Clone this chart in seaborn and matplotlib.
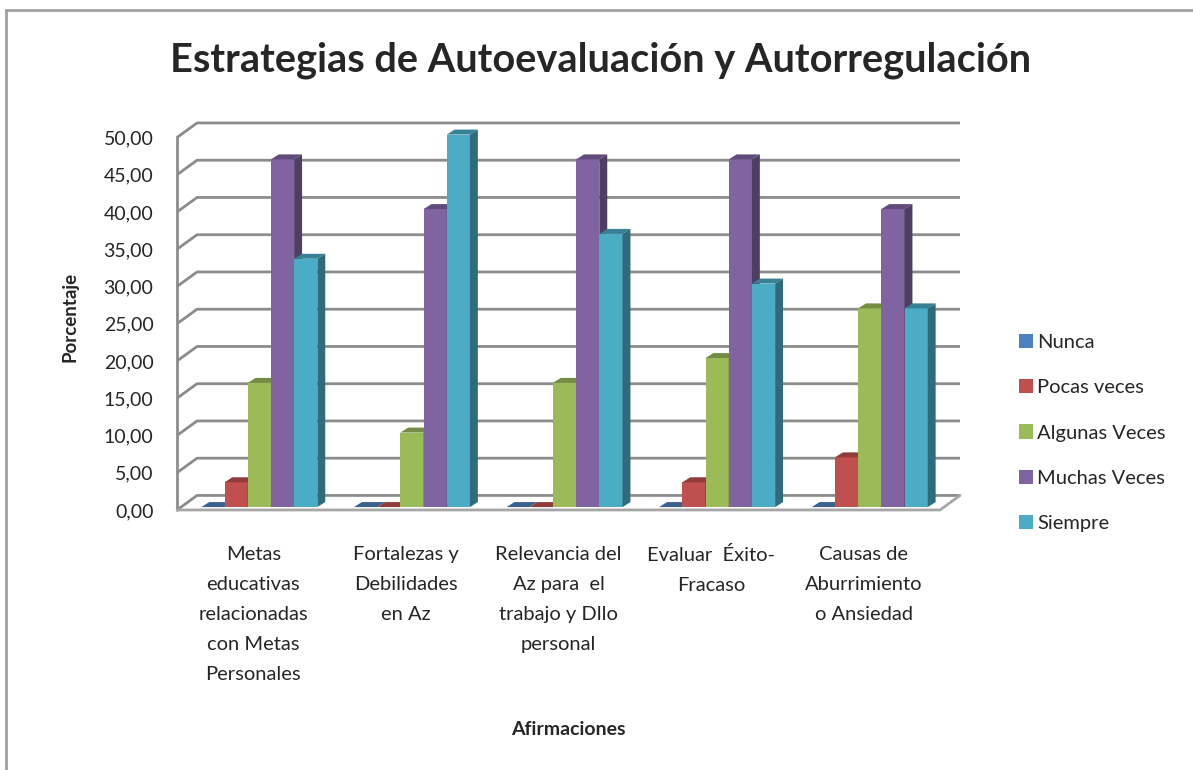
import numpy as np
import pandas as pd
import seaborn as sns
import matplotlib
matplotlib.use("Agg")
from matplotlib import pyplot as plt
from matplotlib.patches import Polygon, Patch
from matplotlib.lines import Line2D

# Data
afirmaciones = [
    "Metas\neducativas\nrelacionadas\ncon Metas\nPersonales",
    "Fortalezas y\nDebilidades\nen Az",
    "Relevancia del\nAz para  el\ntrabajo y Dllo\npersonal",
    "Evaluar  Éxito-\nFracaso",
    "Causas de\nAburrimiento\no Ansiedad",
]
respuestas = ["Nunca", "Pocas veces", "Algunas Veces", "Muchas Veces", "Siempre"]
nunca = [0.0, 0.0, 0.0, 0.0, 0.0]
pocas = [3.33, 0.0, 0.0, 3.33, 6.67]
algunas = [16.67, 10.0, 16.67, 20.0, 26.67]
muchas = [46.67, 40.0, 46.67, 46.67, 40.0]
siempre = [33.33, 50.0, 36.67, 30.0, 26.67]
colores = ["#4F81BD", "#C0504D", "#9BBB59", "#8064A2", "#4BACC6"]

series = [nunca, pocas, algunas, muchas, siempre]
df = pd.DataFrame(
    [(a, r, v) for r, vals in zip(respuestas, series) for a, v in zip(afirmaciones, vals)],
    columns=["Afirmacion", "Respuesta", "Porcentaje"],
)

sns.set_style("white")
plt.rcParams["font.family"] = ["Lato", "DejaVu Sans"]

fig = plt.figure(figsize=(11.93, 7.7), dpi=100)
ax = fig.add_axes([0.1484, 0.3377, 0.6563, 0.5026])

# depth of walls / bars (data units)
wdx, wdy = 0.131, 1.95
bdx, bdy = 0.052, 0.67
x0, x1 = -0.5, 4.5

sns.barplot(data=df, x="Afirmacion", y="Porcentaje", hue="Respuesta",
            palette=colores, saturation=1, width=0.76, legend=False,
            linewidth=0, ax=ax)

ax.set_xlim(x0, x1 + wdx)
ax.set_ylim(0, 50 + wdy)
for s in ax.spines.values():
    s.set_visible(False)

# walls and gridlines
grid_c = "#8c8c8c"
for v in np.arange(0, 50.01, 5):
    ax.plot([x0, x0 + wdx, x1 + wdx], [v, v + wdy, v + wdy], color=grid_c,
            lw=2, zorder=1, solid_capstyle="butt", clip_on=False)
ax.plot([x0, x0], [0, 50], color=grid_c, lw=2, zorder=1, clip_on=False)
ax.plot([x0, x1, x1 + wdx], [0, 0, wdy], color="#a6a6a6", lw=2, zorder=1, clip_on=False)

# 3D faces for bars (bars sit a little back inside the depth)
def shade(c, f):
    r, g, b = matplotlib.colors.to_rgb(c)
    return (r * f, g * f, b * f)

sx, sy = 0.3 * wdx, 0.2 * wdy
bars = sorted(ax.patches, key=lambda p: p.get_x())
for i, p in enumerate(bars):
    p.set_x(p.get_x() + sx)
    p.set_y(sy)
    x, w, h = p.get_x(), p.get_width(), p.get_height()
    b = sy
    c = p.get_facecolor()
    z = 3 + i * 0.01
    p.set_zorder(z)
    top = Polygon([(x, b + h), (x + bdx, b + h + bdy), (x + w + bdx, b + h + bdy), (x + w, b + h)],
                  closed=True, facecolor=shade(c, 0.75), edgecolor="none", zorder=z)
    side = Polygon([(x + w, b), (x + w + bdx, b + bdy), (x + w + bdx, b + h + bdy), (x + w, b + h)],
                   closed=True, facecolor=shade(c, 0.62), edgecolor="none", zorder=z)
    ax.add_patch(top)
    ax.add_patch(side)

ax.set_yticks(np.arange(0, 50.01, 5))
ax.set_yticklabels([f"{v:.2f}".replace(".", ",") for v in np.arange(0, 50.01, 5)],
                   fontsize=14)
ax.tick_params(axis="y", length=0, pad=17)
ax.set_xticks(range(5))
ax.set_xticklabels(afirmaciones, fontsize=14.5, linespacing=1.92, va="top")
ax.tick_params(axis="x", length=0, pad=26)

ax.set_ylabel("Porcentaje", fontsize=13.5, fontweight="bold", labelpad=18)
ax.set_xlabel("Afirmaciones", fontsize=14, fontweight="bold", labelpad=28)

fig.suptitle("Estrategias de Autoevaluación y Autorregulación", x=0.503, y=0.922,
             va="center", fontsize=28.6, fontweight="bold")

handles = [Patch(facecolor=c, edgecolor="none") for c in colores]
fig.legend(handles, respuestas, loc="upper left", bbox_to_anchor=(0.839, 0.59),
           frameon=False, fontsize=14.5, handlelength=0.7, handleheight=0.7,
           handletextpad=0.2, labelspacing=1.4)

# outer chart border
fig.add_artist(Line2D([0.005, 0.005], [0.0, 0.987], color="#a0a0a0", lw=2))
fig.add_artist(Line2D([0.005, 1.0], [0.987, 0.987], color="#a0a0a0", lw=2))

fig.savefig("out.png", dpi=100)
